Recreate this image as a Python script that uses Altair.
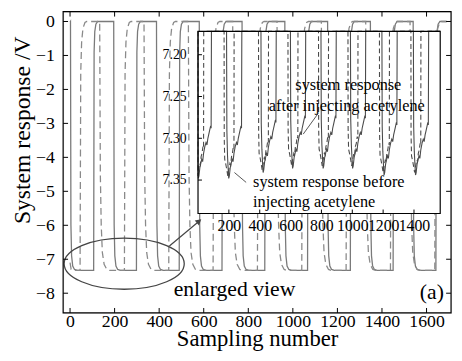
import altair as alt
import pandas as pd

SERIF = "Liberation Serif"

# ---------------- main panel ----------------
# sample index of each falling / rising edge
solid_fall = [2, 196, 388, 580, 772, 964, 1156, 1348, 1540]
solid_rise = [106, 298, 490, 682, 874, 1066, 1258, 1450, 1642]
dash_fall = [133, 332, 531, 730, 929, 1128, 1327, 1526]
dash_rise = [45, 244, 443, 642, 841, 1040, 1239, 1438, 1637]
series_end = 1690
# edge shapes: (samples after the edge, response in V)
solid_fall_shape = [(0, 0.0), (2, -6.0), (5, -6.9), (10, -7.2), (18, -7.3), (30, -7.33)]
solid_rise_shape = [(0, -7.33), (2, -0.9), (5, -0.3), (10, -0.08), (18, 0.0)]
dash_fall_shape = [(0, 0.0), (3, -4.5), (7, -6.0), (12, -6.8), (20, -7.15), (32, -7.3), (45, -7.33)]
dash_rise_shape = [(0, -7.33), (3, -1.5), (7, -0.6), (13, -0.2), (22, -0.03), (30, 0.0)]
solid_start = [(0, -0.02)]
dash_start = [(0, -7.1), (5, -7.3), (20, -7.33)]

x_ticks = [0, 200, 400, 600, 800, 1000, 1200, 1400, 1600]
y_ticks = [0, -1, -2, -3, -4, -5, -6, -7, -8]

# annotations of the main panel
ellipse_pos = {"s": [243], "v": [-7.13]}
arrow_pos = {"s": [446], "v": [-6.61], "s2": [579], "v2": [-5.88]}
main_text = {"s": [738, 1624], "v": [-8.087, -8.174], "t": ["enlarged view", "(a)"]}

# ---------------- inset (enlarged view) ----------------
inset_centers = [0, 197, 420, 611, 809, 1000, 1204, 1408]
inset_shift = [0.0, 0.0, -0.007, -0.012, -0.012, -0.012, -0.004, -0.004]
inset_solid_shape = [(-12, 7.10), (-10, 7.29), (-6, 7.32), (-2, 7.335), (2, 7.348), (6, 7.345),
                     (12, 7.335), (18, 7.33), (24, 7.325), (30, 7.328), (36, 7.318), (44, 7.31),
                     (52, 7.305), (58, 7.308), (64, 7.30), (70, 7.295), (76, 7.29), (82, 7.285),
                     (85, 7.288), (87, 7.10)]
inset_dash_shape = [(-28, 7.10), (-27, 7.30), (-24, 7.325), (-18, 7.33), (-10, 7.338), (-4, 7.345),
                    (0, 7.34), (5, 7.335), (10, 7.33), (15, 7.332), (20, 7.322), (26, 7.318),
                    (32, 7.31), (36, 7.312), (37, 7.10)]
inset_top_value = 7.10
inset_end = 1570
inset_x_ticks = [200, 400, 600, 800, 1000, 1200, 1400]
inset_y_ticks = [7.20, 7.25, 7.30, 7.35]
inset_box = {"x0": [0], "x1": [1570], "y0": [7.172], "y1": [7.390]}
inset_text = {"x": [631, 459, 357, 357], "y": [7.2358, 7.2618, 7.352, 7.376],
              "t": ["system response", "after injecting acetylene",
                    "system response before", "injecting acetylene"]}
inset_pointer = {"x": [779, 312], "y": [7.2702, 7.3528], "x2": [682, 236], "y2": [7.2950, 7.3410]}


def build(start, falls, rises, fshape, rshape, end):
    pts = list(start)
    ev = sorted([(t, fshape) for t in falls] + [(t, rshape) for t in rises], key=lambda e: e[0])
    for t, shape in ev:
        pts += [(t + o, v) for o, v in shape]
    pts.append((end, pts[-1][1]))
    df = pd.DataFrame(pts, columns=["s", "v"])
    df["i"] = range(len(df))
    return df


def build_inset(shape):
    pts = [(0, inset_top_value)]
    for c, d in zip(inset_centers, inset_shift):
        pts += [(c + o, v + d if v > 7.2 else v) for o, v in shape]
    pts.append((inset_end, inset_top_value))
    df = pd.DataFrame(pts, columns=["x", "y"])
    df["i"] = range(len(df))
    return df


solid_df = build(solid_start, solid_fall, solid_rise, solid_fall_shape, solid_rise_shape, series_end)
dash_df = build(dash_start, dash_fall, dash_rise, dash_fall_shape, dash_rise_shape, series_end)
isolid_df = build_inset(inset_solid_shape)
idash_df = build_inset(inset_dash_shape)

W, H = 394, 306


def xs():
    return alt.Scale(domain=[-31, 1710], nice=False, zero=False)


def ys():
    return alt.Scale(domain=[-8.58, 0.29], nice=False, zero=False)


def ixs():
    return alt.Scale(domain=[0, 1570], range=[137, 383], nice=False, zero=False, clamp=True)


def iys():
    return alt.Scale(domain=[7.172, 7.390], range=[20, 205], nice=False, zero=False, clamp=True)


ax_x = alt.Axis(orient="bottom", values=x_ticks, format="d", ticks=False, domain=False, grid=False,
                labelFont=SERIF, labelFontSize=18, labelColor="black", labelPadding=0,
                labelFlush=False, labelOverlap=False, title="Sampling number", titleFont=SERIF,
                titleFontSize=23, titleFontWeight="normal", titleColor="black", titleY=33,
                titleBaseline="alphabetic")
ax_y = alt.Axis(orient="left", values=y_ticks, ticks=False, domain=False, grid=False,
                labelFont=SERIF, labelFontSize=18, labelColor="black", labelPadding=9,
                labelFlush=False, title="System response /V", titleFont=SERIF, titleFontSize=24,
                titleFontWeight="normal", titleColor="black", titleX=-34, titleY=120,
                titleAngle=270, titleBaseline="alphabetic")

solid = alt.Chart(solid_df).mark_line(color="#7a7a7a", strokeWidth=1.3).encode(
    x=alt.X("s:Q", scale=xs(), axis=ax_x), y=alt.Y("v:Q", scale=ys(), axis=ax_y), order="i:Q")
dashed = alt.Chart(dash_df).mark_line(color="#8a8a8a", strokeWidth=1.3, strokeDash=[7, 4]).encode(
    x=alt.X("s:Q", scale=xs(), axis=None), y=alt.Y("v:Q", scale=ys(), axis=None), order="i:Q")

ell_path = "M-1,0A1,0.426,0,1,0,1,0A1,0.426,0,1,0,-1,0Z"
ellipse = alt.Chart(pd.DataFrame(ellipse_pos)).mark_point(
    shape=ell_path, size=14884, filled=False, stroke="#444", strokeWidth=1.3, opacity=1).encode(
    x=alt.X("s:Q", scale=xs(), axis=None), y=alt.Y("v:Q", scale=ys(), axis=None))
arrow = alt.Chart(pd.DataFrame(arrow_pos)).mark_rule(color="#444", strokeWidth=1.2).encode(
    x=alt.X("s:Q", scale=xs(), axis=None), y=alt.Y("v:Q", scale=ys(), axis=None), x2="s2:Q", y2="v2:Q")
arrow_head = alt.Chart(pd.DataFrame(arrow_pos)).mark_point(
    shape="triangle-up", size=45, filled=True, color="#444", angle=50, opacity=1).encode(
    x=alt.X("s2:Q", scale=xs(), axis=None), y=alt.Y("v2:Q", scale=ys(), axis=None))
texts = alt.Chart(pd.DataFrame(main_text)).mark_text(
    font=SERIF, fontSize=22, color="black", baseline="alphabetic", align="center").encode(
    x=alt.X("s:Q", scale=xs(), axis=None), y=alt.Y("v:Q", scale=ys(), axis=None), text="t:N")

xt = pd.DataFrame({"t": x_ticks})
yt = pd.DataFrame({"t": y_ticks})
tick_b = alt.Chart(xt).mark_rule(color="black").encode(
    x=alt.X("t:Q", scale=xs(), axis=None), y=alt.value(H), y2=alt.value(H - 5))
tick_t = alt.Chart(xt).mark_rule(color="black").encode(
    x=alt.X("t:Q", scale=xs(), axis=None), y=alt.value(0), y2=alt.value(5))
tick_l = alt.Chart(yt).mark_rule(color="black").encode(
    y=alt.Y("t:Q", scale=ys(), axis=None), x=alt.value(0), x2=alt.value(5))
tick_r = alt.Chart(yt).mark_rule(color="black").encode(
    y=alt.Y("t:Q", scale=ys(), axis=None), x=alt.value(W), x2=alt.value(W - 5))
main_frame = alt.Chart(pd.DataFrame({"k": [0]})).mark_rect(
    fillOpacity=0, stroke="black", strokeWidth=1.2).encode(
    x=alt.value(0), x2=alt.value(W), y=alt.value(0), y2=alt.value(H))

# ---------------- inset layer ----------------
ax_ix = alt.Axis(orient="bottom", offset=-101, values=inset_x_ticks, format="d", ticks=False,
                 domain=False, grid=False, labelFont=SERIF, labelFontSize=16, labelColor="black",
                 labelPadding=4, labelOverlap=False, labelFlush=False, title="", zindex=1)
ax_iy = alt.Axis(orient="left", offset=-137, values=inset_y_ticks, format=".2f", ticks=False,
                 domain=False, grid=False, labelFont=SERIF, labelFontSize=14, labelColor="black",
                 labelPadding=12, labelOverlap=False, labelFlush=False, title="", zindex=1)

box = pd.DataFrame(inset_box)
bg = alt.Chart(box).mark_rect(fill="white").encode(
    x=alt.X("x0:Q", scale=ixs(), axis=ax_ix), x2="x1:Q",
    y=alt.Y("y0:Q", scale=iys(), axis=ax_iy), y2="y1:Q")
isolid = alt.Chart(isolid_df).mark_line(color="#4a4a4a", strokeWidth=1.1).encode(
    x=alt.X("x:Q", scale=ixs(), axis=None), y=alt.Y("y:Q", scale=iys(), axis=None), order="i:Q")
idash = alt.Chart(idash_df).mark_line(color="#4a4a4a", strokeWidth=1.1, strokeDash=[5, 3]).encode(
    x=alt.X("x:Q", scale=ixs(), axis=None), y=alt.Y("y:Q", scale=iys(), axis=None), order="i:Q")
frame = alt.Chart(box).mark_rect(fillOpacity=0, stroke="black", strokeWidth=1.2).encode(
    x=alt.X("x0:Q", scale=ixs(), axis=None), x2="x1:Q",
    y=alt.Y("y0:Q", scale=iys(), axis=None), y2="y1:Q")
pointers = alt.Chart(pd.DataFrame(inset_pointer)).mark_rule(color="#555", strokeWidth=1).encode(
    x=alt.X("x:Q", scale=ixs(), axis=None), y=alt.Y("y:Q", scale=iys(), axis=None), x2="x2:Q", y2="y2:Q")
itexts = alt.Chart(pd.DataFrame(inset_text)).mark_text(
    font=SERIF, fontSize=16.5, color="black", baseline="middle", align="left").encode(
    x=alt.X("x:Q", scale=ixs(), axis=None), y=alt.Y("y:Q", scale=iys(), axis=None), text="t:N")
ixt = pd.DataFrame({"t": inset_x_ticks})
iyt = pd.DataFrame({"t": inset_y_ticks})
itick_b = alt.Chart(ixt).mark_rule(color="black").encode(
    x=alt.X("t:Q", scale=ixs(), axis=None), y=alt.value(205), y2=alt.value(201))
itick_l = alt.Chart(iyt).mark_rule(color="black").encode(
    y=alt.Y("t:Q", scale=iys(), axis=None), x=alt.value(137), x2=alt.value(141))

chart = alt.layer(
    solid, dashed, ellipse, arrow, arrow_head, texts, tick_b, tick_t, tick_l, tick_r, main_frame,
    bg, isolid, idash, frame, pointers, itexts, itick_b, itick_l,
).resolve_scale(x="independent", y="independent").properties(
    width=W, height=H, autosize="none",
    padding={"left": 56, "top": 1, "right": 3, "bottom": 37},
).configure_view(stroke="black", strokeWidth=1.2).configure(background="white")

chart.save("out.html", embed_options={"renderer": "svg", "actions": False})
